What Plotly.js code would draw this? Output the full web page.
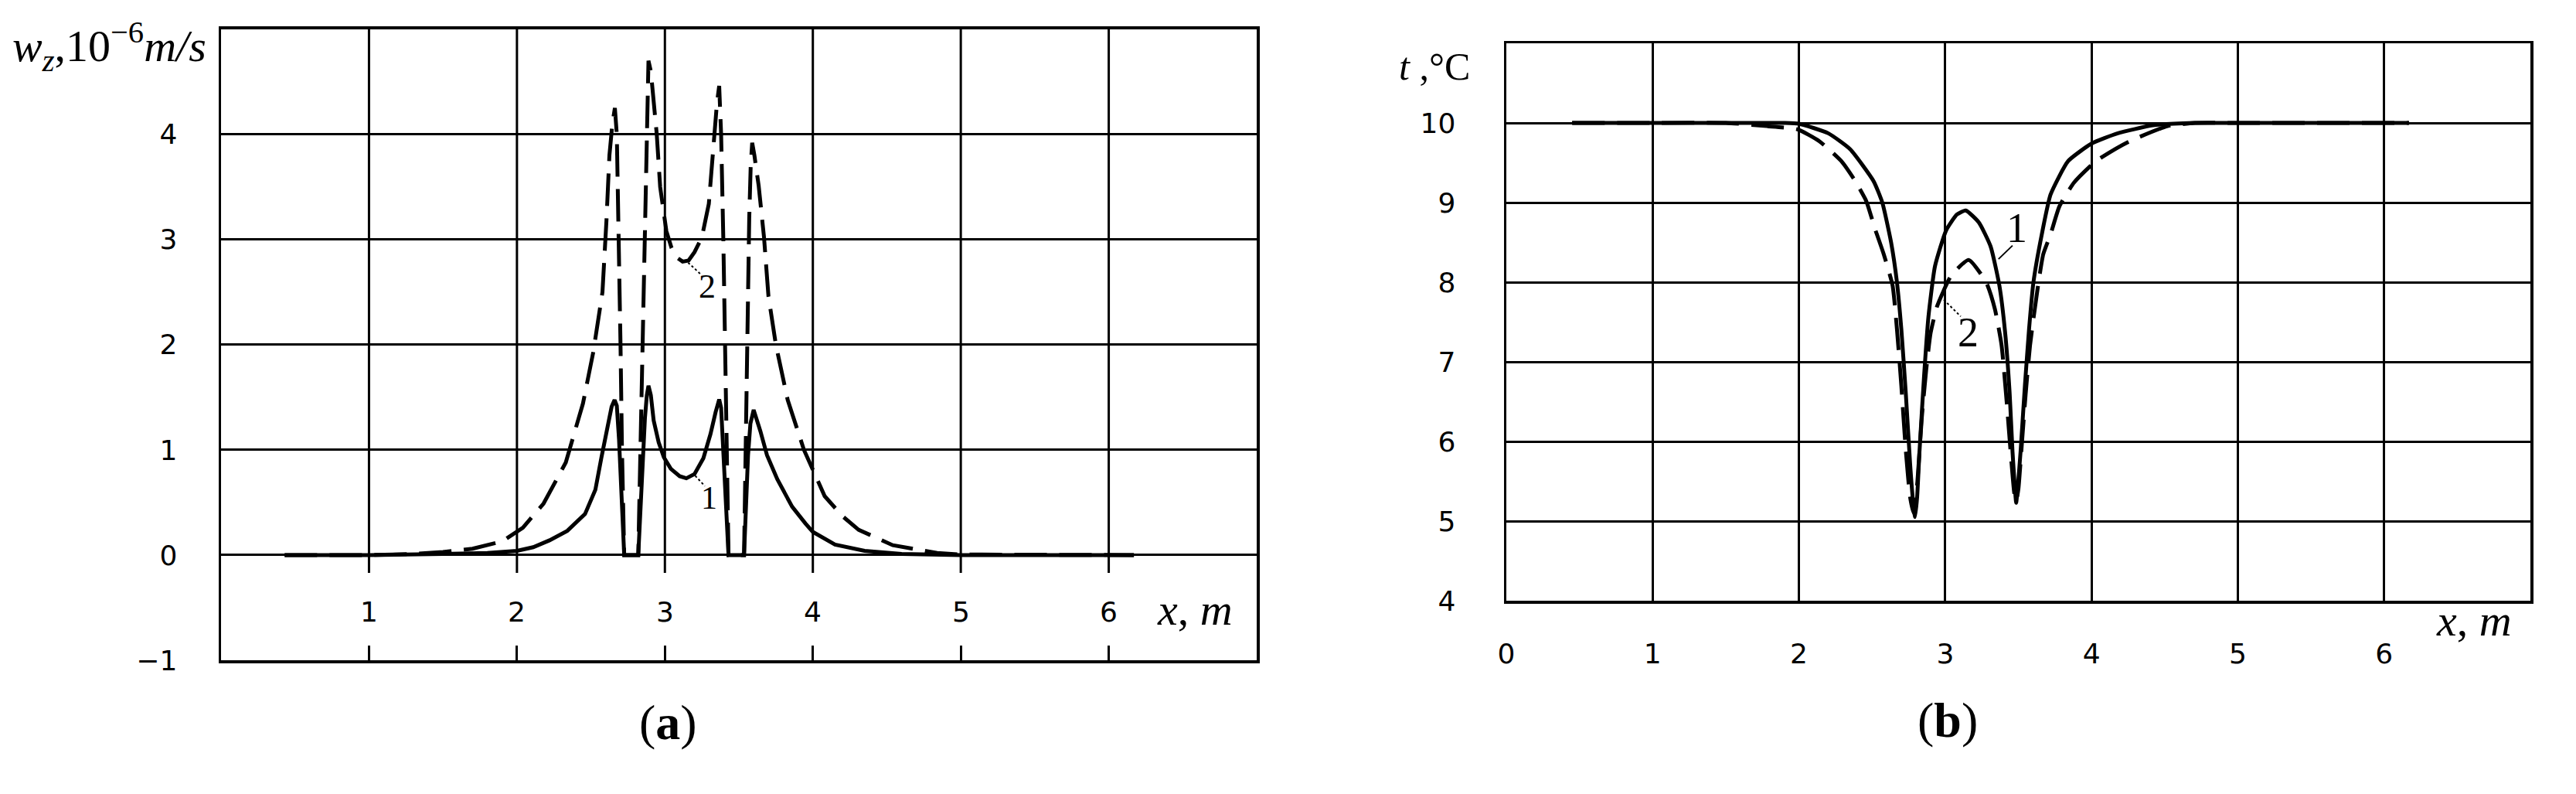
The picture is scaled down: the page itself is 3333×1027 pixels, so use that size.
<!DOCTYPE html>
<html>
<head>
<meta charset="utf-8">
<script src="https://cdn.plot.ly/plotly-3.0.1.min.js"></script>
<style>
body { margin: 0; background: #fff; }
#chart { width: 3333px; height: 1027px; }
</style>
</head>
<body>
<div id="chart"></div>
<script>
// panel (a): vertical velocity w_z, 10^-6 m/s
var xA1 = [0.43, 1.0, 1.5, 1.8, 2.0, 2.11, 2.22, 2.34, 2.46, 2.53, 2.57, 2.61, 2.64, 2.66, 2.675,
    2.69, 2.705, 2.725, 2.82, 2.835, 2.85, 2.865, 2.878, 2.889, 2.905, 2.924, 2.958, 2.993, 3.04, 3.10,
    3.145, 3.20, 3.26, 3.308, 3.343, 3.367, 3.38, 3.40, 3.415, 3.43, 3.535, 3.548, 3.562, 3.578, 3.60,
    3.645, 3.69, 3.76, 3.86, 3.95, 4.0, 4.15, 4.35, 4.6, 5.0, 6.17];
var wA1 = [0, 0, 0.01, 0.02, 0.04, 0.075, 0.14, 0.23, 0.39, 0.62, 0.92, 1.21, 1.41, 1.475, 1.42,
    1.1, 0.55, 0, 0, 0.5, 0.95, 1.3, 1.52, 1.61, 1.52, 1.28, 1.07, 0.93, 0.82, 0.75,
    0.73, 0.77, 0.92, 1.15, 1.36, 1.48, 1.4, 0.9, 0.4, 0, 0, 0.5, 0.95, 1.25, 1.38,
    1.18, 0.95, 0.72, 0.46, 0.3, 0.22, 0.1, 0.04, 0.01, 0, 0];

var xA2 = [0.43, 1.0, 1.3, 1.5, 1.7, 1.9, 2.04, 2.18, 2.33, 2.446, 2.516, 2.578, 2.605, 2.625, 2.645,
    2.662, 2.675, 2.69, 2.70, 2.71, 2.725, 2.82, 2.835, 2.85, 2.865, 2.878, 2.889, 2.905, 2.925, 2.945,
    2.968, 3.01, 3.045, 3.08, 3.12, 3.16, 3.20, 3.25, 3.297, 3.332, 3.352, 3.367, 3.38, 3.395, 3.41,
    3.42, 3.43, 3.535, 3.545, 3.56, 3.57, 3.58, 3.59, 3.605, 3.634, 3.67, 3.70, 3.75, 3.83, 3.94,
    4.0, 4.08, 4.2, 4.31, 4.54, 4.84, 5.0, 5.5, 6.17];
var wA2 = [0, 0, 0.01, 0.03, 0.06, 0.13, 0.26, 0.49, 0.88, 1.44, 1.93, 2.5, 3.18, 3.8, 4.1,
    4.25, 4.0, 3.0, 2.0, 1.0, 0, 0, 1.0, 2.2, 3.4, 4.3, 4.7, 4.6, 4.3, 4.0,
    3.5, 3.08, 2.92, 2.83, 2.79, 2.8, 2.88, 3.02, 3.34, 4.0, 4.3, 4.46, 4.0, 3.0, 1.8,
    0.9, 0, 0, 1.0, 2.2, 3.2, 3.7, 3.92, 3.8, 3.51, 3.02, 2.46, 2.0, 1.475, 1.0,
    0.82, 0.56, 0.37, 0.24, 0.094, 0.02, 0.005, 0, 0];

// panel (b): temperature t, deg C
var xB1 = [0.45, 1.0, 1.5, 1.9, 2.0, 2.2, 2.35, 2.51, 2.57, 2.63, 2.67, 2.70, 2.73, 2.76, 2.78,
    2.794, 2.808, 2.824, 2.855, 2.885, 2.93, 3.006, 3.08, 3.14, 3.23, 3.31, 3.37, 3.41, 3.44, 3.46,
    3.475, 3.485, 3.497, 3.515, 3.545, 3.573, 3.603, 3.66, 3.72, 3.84, 4.0, 4.18, 4.42, 4.7, 5.0, 6.17];
var tB1 = [10, 10, 10, 10, 9.99, 9.87, 9.67, 9.27, 9.0, 8.5, 8.0, 7.41, 6.62, 5.72, 5.25,
    5.05, 5.3, 5.87, 6.81, 7.56, 8.2, 8.65, 8.85, 8.9, 8.75, 8.45, 7.96, 7.36, 6.62, 5.87,
    5.45, 5.23, 5.45, 5.87, 6.71, 7.41, 8.0, 8.6, 9.1, 9.52, 9.74, 9.87, 9.97, 10, 10, 10];

var xB2 = [0.45, 1.0, 1.5, 1.78, 1.99, 2.14, 2.29, 2.385, 2.46, 2.52, 2.58, 2.64, 2.67, 2.70, 2.73,
    2.76, 2.785, 2.81, 2.84, 2.87, 2.9, 2.945, 3.04, 3.16, 3.28, 3.34, 3.385, 3.42, 3.45, 3.472,
    3.485, 3.50, 3.525, 3.55, 3.58, 3.63, 3.67, 3.72, 3.78, 3.88, 4.03, 4.25, 4.52, 4.71, 5.0, 6.17];
var tB2 = [10, 10, 10, 9.96, 9.92, 9.77, 9.52, 9.27, 9.02, 8.67, 8.35, 7.96, 7.41, 6.7, 5.9,
    5.3, 5.1, 5.5, 6.3, 6.9, 7.36, 7.7, 8.08, 8.28, 8.0, 7.66, 7.21, 6.5, 5.8, 5.35,
    5.25, 5.4, 6.0, 6.6, 7.21, 7.9, 8.35, 8.6, 8.95, 9.25, 9.52, 9.76, 9.96, 10, 10, 10];

// tick values
var xTicksA = [1, 2, 3, 4, 5, 6];
var yTicksA = [-1, 0, 1, 2, 3, 4];
var xTicksB = [0, 1, 2, 3, 4, 5, 6];
var yTicksB = [4, 5, 6, 7, 8, 9, 10];

window.onload = drawChart;

function drawChart() {
    var W = 3333, H = 1027;
    var serif = "Liberation Serif, Times New Roman, serif";
    var sans = "DejaVu Sans, Verdana, sans-serif";
    var dashed = '42px,16px';
    var black = '#000';

    var data = [
        {x: xA1, y: wA1, xaxis: 'x', yaxis: 'y', mode: 'lines', line: {color: black, width: 5}},
        {x: xA2, y: wA2, xaxis: 'x', yaxis: 'y', mode: 'lines', line: {color: black, width: 5, dash: dashed}},
        {x: xB1, y: tB1, xaxis: 'x2', yaxis: 'y2', mode: 'lines',
            line: {color: black, width: 5, shape: 'spline', smoothing: 0.5}},
        {x: xB2, y: tB2, xaxis: 'x2', yaxis: 'y2', mode: 'lines',
            line: {color: black, width: 5, dash: dashed, shape: 'spline', smoothing: 0.5}}
    ];

    var shapes = [];
    var annotations = [];

    // panel (a): vertical grid stops at w = 0, short ticks below it
    xTicksA.forEach(function (v) {
        shapes.push({type: 'line', xref: 'x', yref: 'y', x0: v, x1: v, y0: -0.17, y1: 5,
            layer: 'below', line: {color: black, width: 3}});
        annotations.push({xref: 'x', yref: 'y', x: v, y: -0.54, text: String(v), showarrow: false,
            font: {family: sans, size: 36, color: black}});
    });

    // leader lines to the curve numbers
    shapes.push({type: 'line', xref: 'x', yref: 'y', x0: 3.157, y0: 2.78, x1: 3.25, y1: 2.66,
        line: {color: black, width: 2, dash: 'dot'}});
    shapes.push({type: 'line', xref: 'x', yref: 'y', x0: 3.205, y0: 0.754, x1: 3.27, y1: 0.656,
        line: {color: black, width: 2, dash: 'dot'}});
    shapes.push({type: 'line', xref: 'x2', yref: 'y2', x0: 3.364, y0: 8.29, x1: 3.46, y1: 8.46,
        line: {color: black, width: 2}});
    shapes.push({type: 'line', xref: 'x2', yref: 'y2', x0: 2.99, y0: 7.78, x1: 3.106, y1: 7.57,
        line: {color: black, width: 2, dash: 'dot'}});

    annotations.push(
        {xref: 'x', yref: 'y', x: 3.285, y: 2.557, text: '2', showarrow: false, font: {family: serif, size: 44, color: black}},
        {xref: 'x', yref: 'y', x: 3.297, y: 0.54, text: '1', showarrow: false, font: {family: serif, size: 42, color: black}},
        {xref: 'x2', yref: 'y2', x: 3.49, y: 8.675, text: '1', showarrow: false, font: {family: serif, size: 54, color: black}},
        {xref: 'x2', yref: 'y2', x: 3.158, y: 7.37, text: '2', showarrow: false, font: {family: serif, size: 54, color: black}},
        // axis titles
        {xref: 'paper', yref: 'paper', x: 14 / W, y: 1 - 60 / H, xanchor: 'left', yanchor: 'middle',
            text: '<i>w</i><sub><i>z</i></sub>,10<sup>\u22126</sup><i>m/s</i>', showarrow: false,
            font: {family: serif, size: 58, color: black}},
        {xref: 'x', yref: 'y', x: 6.58, y: -0.52, text: '<i>x</i>, <i>m</i>', showarrow: false,
            font: {family: serif, size: 58, color: black}},
        {xref: 'paper', yref: 'paper', x: 1808 / W, y: 1 - 56 / H, xanchor: 'left', text: '<i>t</i> ,\u00b0C',
            showarrow: false, font: {family: serif, size: 50, color: black}},
        {xref: 'paper', yref: 'paper', x: 3252 / W, y: 1 - 837 / H, text: '<i>x</i>, <i>m</i>', showarrow: false,
            font: {family: serif, size: 58, color: black}},
        // panel letters
        {xref: 'paper', yref: 'paper', x: 825 / W, y: 1 - 972 / H, text: '(<b>a</b>)', showarrow: false,
            font: {family: serif, size: 64, color: black}},
        {xref: 'paper', yref: 'paper', x: 2561 / W, y: 1 - 969 / H, text: '(<b>b</b>)', showarrow: false,
            font: {family: serif, size: 64, color: black}}
    );

    var tickFont = {family: sans, size: 36, color: black};

    var layout = {
        width: W,
        height: H,
        margin: {l: 0, r: 0, t: 0, b: 0},
        paper_bgcolor: '#fff',
        plot_bgcolor: '#fff',
        showlegend: false,
        xaxis: {
            domain: [286 / W, 1626 / W], range: [0, 7], anchor: 'y',
            tickvals: xTicksA, showticklabels: false, ticks: 'inside', ticklen: 19, tickwidth: 3, tickcolor: black,
            showgrid: false, zeroline: false, showline: true, mirror: true, linecolor: black, linewidth: 3.5
        },
        yaxis: {
            domain: [(H - 854) / H, (H - 37.7) / H], range: [-1, 5], anchor: 'x',
            tickvals: yTicksA, ticktext: yTicksA.map(function (v) { return v < 0 ? '\u2212' + (-v) : String(v); }),
            ticks: '', ticklabelstandoff: 46, tickfont: tickFont,
            showgrid: true, gridcolor: black, gridwidth: 3, zeroline: false,
            showline: true, mirror: true, linecolor: black, linewidth: 3.5
        },
        xaxis2: {
            domain: [1949 / W, 3274 / W], range: [0, 7], anchor: 'y2',
            tickvals: xTicksB, ticks: '', ticklabelstandoff: 34, tickfont: tickFont,
            showgrid: true, gridcolor: black, gridwidth: 3, zeroline: false,
            showline: true, mirror: true, linecolor: black, linewidth: 3.5
        },
        yaxis2: {
            domain: [(H - 777) / H, (H - 56) / H], range: [4, 11], anchor: 'x2',
            tickvals: yTicksB, ticks: '', ticklabelstandoff: 55, tickfont: tickFont,
            showgrid: true, gridcolor: black, gridwidth: 3, zeroline: false,
            showline: true, mirror: true, linecolor: black, linewidth: 3.5
        },
        shapes: shapes,
        annotations: annotations
    };

    Plotly.newPlot('chart', data, layout, {staticPlot: true});
}
</script>
</body>
</html>
